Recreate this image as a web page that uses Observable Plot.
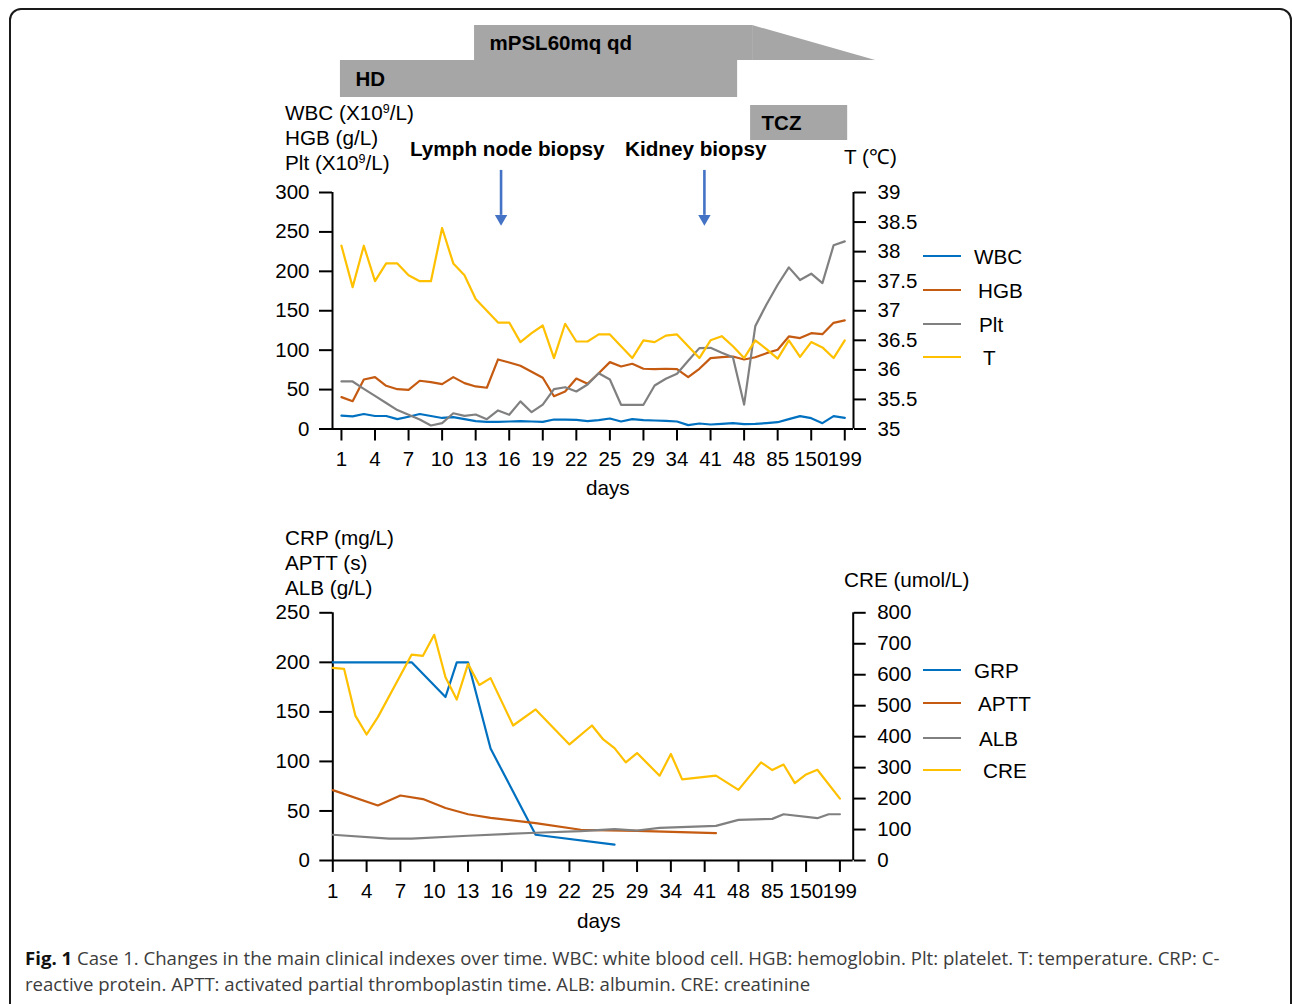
<!DOCTYPE html>
<html>
<head>
<meta charset="utf-8">
<script src="https://cdn.jsdelivr.net/npm/d3@7"></script>
<script src="https://cdn.jsdelivr.net/npm/@observablehq/plot@0.6"></script>
<style>
  html, body { margin: 0; padding: 0; background: #fff; }
  #page { position: relative; width: 1292px; height: 1004px; overflow: hidden; background: #fff;
          font-family: "Liberation Sans", Arial, sans-serif; color: #000; }
  #border { position: absolute; left: 9px; top: 8px; width: 1283px; height: 1030px;
            border: 2px solid #1a1a1a; border-radius: 12px; box-sizing: border-box; }
  .t { position: absolute; white-space: nowrap; font-size: 20.7px; line-height: 20px; }
  .b { font-weight: bold; }
  .t sup { font-size: 12.5px; line-height: 0; vertical-align: 7px; }
  .key { position: absolute; width: 38px; height: 2.4px; }
  .plot { position: absolute; left: 0; }
  #caption { position: absolute; left: 25px; top: 945px; white-space: nowrap;
             font-family: "Open Sans", sans-serif; font-size: 18.6px; line-height: 26px; color: #3c3c3c; }
  #caption b { color: #111; }
</style>
</head>
<body>
<div id="page">
  <div id="border"></div>

  <div class="plot" id="timeline" style="top:0px"></div>
  <div class="plot" id="upper" style="top:150px"></div>
  <div class="plot" id="lower" style="top:560px"></div>

  <!-- upper panel titles -->
  <div class="t" style="left:285px; top:103px">WBC (X10<sup>9</sup>/L)</div>
  <div class="t" style="left:285px; top:128px">HGB (g/L)</div>
  <div class="t" style="left:285px; top:153px">Plt (X10<sup>9</sup>/L)</div>
  <div class="t" style="left:844px; top:147px">T (℃)</div>
  <div class="t b" style="left:410px; top:139px">Lymph node biopsy</div>
  <div class="t b" style="left:625px; top:139px">Kidney biopsy</div>
  <div class="t" style="left:586px; top:478px">days</div>

  <!-- lower panel titles -->
  <div class="t" style="left:285px; top:528px">CRP (mg/L)</div>
  <div class="t" style="left:285px; top:553px">APTT (s)</div>
  <div class="t" style="left:285px; top:578px">ALB (g/L)</div>
  <div class="t" style="left:844px; top:570px">CRE (umol/L)</div>
  <div class="t" style="left:577px; top:911px">days</div>

  <div id="legends"></div>

  <div id="caption"><b>Fig. 1</b> Case 1. Changes in the main clinical indexes over time. WBC: white blood cell. HGB: hemoglobin. Plt: platelet. T: temperature. CRP: C-<br>reactive protein. APTT: activated partial thromboplastin time. ALB: albumin. CRE: creatinine</div>
</div>

<script>
// ---- shared x axis: one sample per position, every third position carries a day label ----
const dayTicks = ["1", "4", "7", "10", "13", "16", "19", "22", "25", "29", "34", "41", "48", "85", "150", "199"];
const tickEvery = 3;

// ---- upper panel: blood counts (left axis) and body temperature in °C (right axis) ----
const wbc = [17, 16, 19, 16.5, 16.5, 12.5, 15.5, 19, 16.5, 14, 15, 12.5, 10, 9, 9, 9.5, 10, 9.5, 9, 12, 12, 11.5, 10, 11.2,
             13.3, 9.5, 12.5, 11.2, 10.8, 10.4, 9.5, 4.9, 7, 5.7, 6.5, 7.4, 6.1, 6.5, 7.4, 8.6, 12.5, 16.3, 13.7, 7.4, 16.3, 14.2];
const hgb = [40.4, 35.3, 62.8, 65.8, 54.8, 50.5, 49.7, 61.2, 59.4, 56.9, 65.8, 58.2, 54, 52.3, 88.2, 84.4, 80.2, 72.6, 65, 41.6, 47.6, 64, 57.4,
             70.8, 84.8, 79.3, 82.7, 76.4, 76, 76.4, 76, 65.8, 76.4, 89.9, 91.1, 92, 88.2, 91, 96.2, 100.5, 117.4, 115.3, 121.6, 120.3, 134.7, 137.7];
const plt = [60.3, 60.3, 51, 42, 33, 24, 18, 12, 4.5, 7.4, 20, 16.7, 18.4, 12.5, 23.5, 18, 35, 21.3, 31, 50.5, 53, 47.6, 56.5,
             70.8, 62.8, 30.7, 30.7, 30.7, 55.2, 63.7, 70, 86.5, 102.6, 103, 96.7, 91, 31, 130.5, 158, 183, 205, 189, 197, 185, 233, 238];
const temp = [38.1, 37.4, 38.1, 37.5, 37.8, 37.8, 37.6, 37.5, 37.5, 38.4, 37.8, 37.6, 37.2, 37.0, 36.8, 36.8, 36.47, 36.62, 36.75, 36.2, 36.78, 36.48, 36.48,
              36.6, 36.6, 36.4, 36.2, 36.5, 36.47, 36.58, 36.6, 36.4, 36.2, 36.5, 36.57, 36.4, 36.2, 36.5, 36.35, 36.19, 36.5, 36.22, 36.47, 36.38, 36.2, 36.5];
const countTicks = [0, 50, 100, 150, 200, 250, 300];
const tempTicks = [35, 35.5, 36, 36.5, 37, 37.5, 38, 38.5, 39];

// ---- lower panel: measured positions and values (left axis CRP/APTT/ALB, right axis CRE) ----
const grpAt = [0, 7, 10, 11, 12, 14, 18, 25];
const grpVal = [200, 200, 165, 200, 200, 113, 26, 16];
const apttAt = [0, 4, 6, 8, 10, 12, 14, 18, 22, 27, 34];
const apttVal = [71, 55.5, 65.6, 62, 53, 46.7, 43, 37.7, 31, 30, 27.6];
const albAt = [0, 5, 7, 12, 18, 22, 25, 27, 29, 34, 36, 39, 40, 43, 44, 45];
const albVal = [26, 22, 22, 25, 28, 29.6, 31.6, 30.3, 33, 35, 41, 42, 46.7, 42.7, 46.7, 46.7];
const creAt = [0, 1, 2, 3, 4, 7, 8, 9, 10, 11, 12, 13, 14, 16, 18, 21, 23, 24, 25, 26, 27, 29, 30, 31, 34, 36, 38, 39, 40, 41, 42, 43, 45];
const creVal = [622, 619, 468, 407, 463, 665, 661, 729, 592, 520, 635, 567, 589, 436, 488, 375, 436, 391, 363, 317, 347, 274, 344, 262, 274, 228,
                317, 292, 310, 250, 278, 293, 200];
const leftTicks2 = [0, 50, 100, 150, 200, 250];
const creTicks = [0, 100, 200, 300, 400, 500, 600, 700, 800];

// ---- treatments (start/end in sample positions) and biopsy events ----
const treatments = [
  {name: "mPSL60mq qd", start: 11.9, end: 36.76, top: 25, bottom: 60},
  {name: "HD", start: -0.09, end: 35.42, top: 60, bottom: 97},
  {name: "TCZ", start: 36.58, end: 45.26, top: 105, bottom: 140}
];
const taper = [{x: 36.76, top: 25}, {x: 47.76, top: 60}];   // mPSL dose tapering
const biopsies = [{name: "Lymph node biopsy", at: 14.27}, {name: "Kidney biopsy", at: 32.45}];

const colors = {blue: "#0070C0", orange: "#C55A11", gray: "#808080", yellow: "#FFC000"};
const upperSeries = [
  {name: "WBC", color: colors.blue, values: wbc},
  {name: "HGB", color: colors.orange, values: hgb},
  {name: "Plt", color: colors.gray, values: plt},
  {name: "T", color: colors.yellow, values: temp}
];

// right-axis values are drawn on the left-axis scale
const tToLeft = t => (t - 35) * 75;
const leftToT = v => v / 75 + 35;
const creToLeft = c => c * 250 / 800;
const leftToCre = v => v * 800 / 250;
const fmt = v => String(+v.toFixed(1));

const fontFamily = '"Liberation Sans", Arial, sans-serif';
const baseStyle = {fontFamily, fontSize: "20.5px", color: "#000", background: "transparent", overflow: "visible"};
const tickPositions = dayTicks.map((_, k) => k * tickEvery);
const xTickFormat = i => dayTicks[Math.round(i / tickEvery)];

const rows = (values, map = v => v) => values.map((v, i) => ({i, v: map(v)}));
const pairRows = (at, vals, map = v => v) => at.map((i, k) => ({i, v: map(vals[k])}));
const lineOpts = color => ({x: "i", y: "v", stroke: color, strokeWidth: 2.2, strokeLinejoin: "round"});

// ---- treatment timeline ----
const upperX = [-0.8, 45.78];
const timeline = Plot.plot({
  width: 1292, height: 150,
  marginLeft: 332, marginRight: 439, marginTop: 0, marginBottom: 0,
  style: baseStyle,
  x: {domain: upperX, axis: null},
  y: {domain: [0, 150], range: [0, 150], axis: null},
  marks: [
    Plot.areaY(taper, {x: "x", y1: "top", y2: 60, fill: "#A6A6A6"}),
    Plot.rect(treatments, {x1: "start", x2: "end", y1: "top", y2: "bottom", fill: "#A6A6A6"}),
    Plot.text(treatments.filter(d => d.name !== "TCZ"), {x: "start", y: d => (d.top + d.bottom) / 2, text: "name",
      dx: 15, textAnchor: "start", fontWeight: "bold", fontSize: 20.5, fill: "#000"}),
    Plot.text(treatments.filter(d => d.name === "TCZ"), {x: "start", y: d => (d.top + d.bottom) / 2, text: "name",
      dx: 11, textAnchor: "start", fontWeight: "bold", fontSize: 20.5, fill: "#000"})
  ]
});
document.getElementById("timeline").append(timeline);

// ---- upper panel ----
const upper = Plot.plot({
  width: 1292, height: 340,
  marginLeft: 332, marginRight: 439, marginTop: 42, marginBottom: 61.5,
  style: baseStyle,
  x: {domain: upperX},
  y: {domain: [0, 300]},
  marks: [
    Plot.axisX({ticks: tickPositions, tickFormat: xTickFormat, tickSize: 12, tickPadding: 10, strokeWidth: 2, label: null}),
    Plot.axisY({anchor: "left", ticks: countTicks, tickSize: 13, tickPadding: 10, strokeWidth: 2, label: null}),
    Plot.axisY({anchor: "right", ticks: tempTicks.map(tToLeft), tickFormat: v => fmt(leftToT(v)),
      tickSize: 12, tickPadding: 12, strokeWidth: 2, label: null}),
    Plot.ruleY([0], {strokeWidth: 2}),
    Plot.ruleX([upperX[0]], {strokeWidth: 2}),
    Plot.ruleX([upperX[1]], {strokeWidth: 2}),
    Plot.line(rows(wbc), lineOpts(colors.blue)),
    Plot.line(rows(hgb), lineOpts(colors.orange)),
    Plot.line(rows(plt), lineOpts(colors.gray)),
    Plot.line(rows(temp, tToLeft), lineOpts(colors.yellow)),
    Plot.ruleX(biopsies, {x: "at", y1: 328, y2: 271, stroke: "#4472C4", strokeWidth: 2.6}),
    Plot.dot(biopsies, {x: "at", y: 267, symbol: "triangle", rotate: 180, r: 4.6, fill: "#4472C4", stroke: "none"})
  ]
});
document.getElementById("upper").append(upper);

// ---- lower panel ----
const lowerX = [0, 46.18];
const lower = Plot.plot({
  width: 1292, height: 380,
  marginLeft: 332.3, marginRight: 439.3, marginTop: 52.3, marginBottom: 80,
  style: baseStyle,
  x: {domain: lowerX},
  y: {domain: [0, 250]},
  marks: [
    Plot.axisX({ticks: tickPositions, tickFormat: xTickFormat, tickSize: 12, tickPadding: 11, strokeWidth: 2, label: null}),
    Plot.axisY({anchor: "left", ticks: leftTicks2, tickSize: 13, tickPadding: 10, strokeWidth: 2, label: null}),
    Plot.axisY({anchor: "right", ticks: creTicks.map(creToLeft), tickFormat: v => fmt(leftToCre(v)),
      tickSize: 12, tickPadding: 12, strokeWidth: 2, label: null}),
    Plot.ruleY([0], {strokeWidth: 2}),
    Plot.ruleX([lowerX[0]], {strokeWidth: 2}),
    Plot.ruleX([lowerX[1]], {strokeWidth: 2}),
    Plot.line(pairRows(grpAt, grpVal), lineOpts(colors.blue)),
    Plot.line(pairRows(apttAt, apttVal), lineOpts(colors.orange)),
    Plot.line(pairRows(albAt, albVal), lineOpts(colors.gray)),
    Plot.line(pairRows(creAt, creVal, creToLeft), lineOpts(colors.yellow))
  ]
});
document.getElementById("lower").append(lower);

// ---- legends ----
const lowerSeries = [
  {name: "GRP", color: colors.blue},
  {name: "APTT", color: colors.orange},
  {name: "ALB", color: colors.gray},
  {name: "CRE", color: colors.yellow}
];
const legendLayout = [
  {series: upperSeries, keyY: [256, 290, 324, 357]},
  {series: lowerSeries, keyY: [670, 703, 738, 770]}
];
const labelX = [974, 978, 979, 983];
const legendHost = document.getElementById("legends");
for (const {series, keyY} of legendLayout) {
  series.forEach((s, k) => {
    const key = document.createElement("div");
    key.className = "key";
    key.style.left = "923px";
    key.style.top = (keyY[k] - 1.2) + "px";
    key.style.background = s.color;
    legendHost.append(key);
    const lab = document.createElement("div");
    lab.className = "t";
    lab.style.left = labelX[k] + "px";
    lab.style.top = (keyY[k] - 9) + "px";
    lab.textContent = s.name;
    legendHost.append(lab);
  });
}
</script>
</body>
</html>
